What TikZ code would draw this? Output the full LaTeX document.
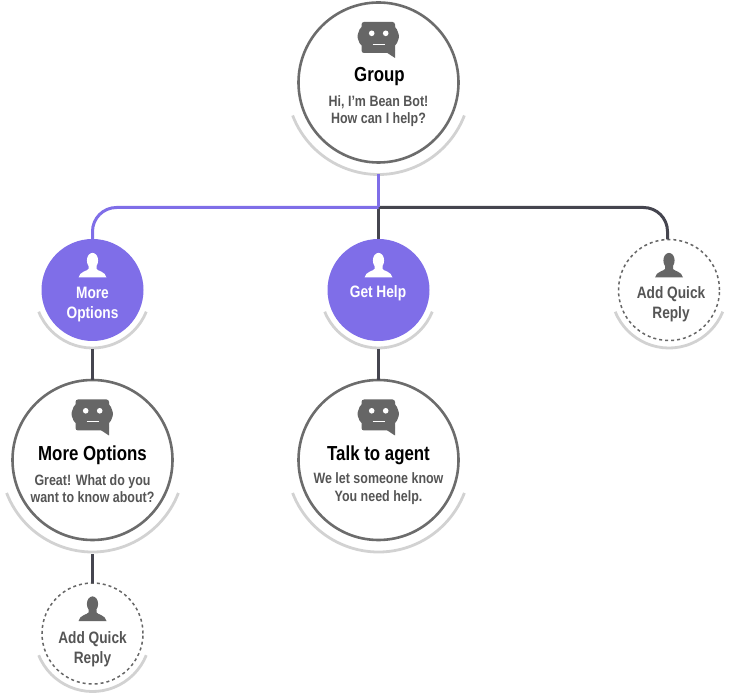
\documentclass[tikz,border=0pt]{standalone}
\usepackage{fontspec}
\setmainfont{Liberation Sans}[FakeStretch=0.83,BoldFont={Liberation Sans Bold}]
\definecolor{violetfill}{HTML}{7F6EE8}
\definecolor{darkline}{HTML}{45454F}
\definecolor{ringgray}{HTML}{6C6C6C}
\definecolor{arcgray}{HTML}{D2D2D2}
\definecolor{icongray}{HTML}{666666}
\definecolor{subgray}{HTML}{555555}
\newcommand{\arcunder}[3]{\draw[arcline] ([shift={(-90-#3:#2pt)}]#1.center) arc[start angle=-90-#3,end angle=-90+#3,radius=#2pt];}
\tikzset{
  bignode/.style={circle,draw=ringgray,line width=2.6pt,fill=white,minimum size=160pt,inner sep=0pt,outer sep=0pt},
  violetnode/.style={circle,fill=violetfill,minimum size=102pt,inner sep=0pt,outer sep=0pt},
  dashnode/.style={circle,draw=icongray,line width=1.5pt,dash pattern=on 3pt off 3pt,fill=white,minimum size=101pt,inner sep=0pt,outer sep=0pt},
  arcline/.style={draw=arcgray,line width=2.8pt},
  darkconn/.style={draw=darkline,line width=3pt},
  violetconn/.style={draw=violetfill,line width=3pt},
  titletext/.style={font=\fontsize{20.3}{23}\selectfont\bfseries,text=black,inner sep=0pt,anchor=base},
  subtext/.style={font=\fontsize{15}{17.7}\selectfont\bfseries,text=subgray,inner sep=0pt,align=center},
  whitetext/.style={font=\fontsize{16.5}{20}\selectfont\bfseries,text=white,inner sep=0pt,align=center},
  graytext/.style={font=\fontsize{16.5}{20}\selectfont\bfseries,text=subgray,inner sep=0pt,align=center},
  pics/boticon/.style={code={
    \fill[icongray,rounded corners=2.5pt] (-17,60.5) rectangle (16.5,29.5);
    \fill[icongray] (16.5,32) -- (16.5,24.5) -- (8.5,29.8) -- cycle;
    \fill[icongray,rounded corners=2.5pt] (-15,55.5) -- (-18,55.5) -- (-21.5,46) -- (-18,37) -- (-15,37) -- cycle;
    \fill[icongray,rounded corners=2.5pt] (14.5,55.5) -- (17.5,55.5) -- (21,46) -- (17.5,37) -- (14.5,37) -- cycle;
    \fill[white] (-6.8,49.2) circle (2.8pt) (7.2,49.2) circle (2.8pt);
    \draw[white,line width=1.4pt] (-6,38.2) -- (6,38.2);
  }},
  pics/personicon/.style={code={
    \fill[#1] (0,29.5) ellipse (5.6pt and 7.6pt);
    \fill[#1] (-4,24) -- (4,24) -- (4,21) .. controls (5,19) and (13,18.5) .. (14,12.5) -- (-14,12.5) .. controls (-13,18.5) and (-5,19) .. (-4,21) -- cycle;
  }}
}
\begin{document}
\begin{tikzpicture}[x=1pt,y=1pt]
\useasboundingbox (0,0) rectangle (730,699);
% nodes
\node[bignode] (group) at (378.5,616.5) {};
\node[violetnode] (moreopt) at (92.5,409) {};
\node[violetnode] (gethelp) at (378.5,409) {};
\node[dashnode] (addone) at (669,409) {};
\node[bignode] (morebot) at (92.5,239) {};
\node[bignode] (talk) at (378.5,239) {};
\node[dashnode] (addtwo) at (92.5,65.5) {};
\arcunder{group}{92}{69}
\arcunder{morebot}{92}{69}
\arcunder{talk}{92}{69}
\arcunder{moreopt}{58}{68}
\arcunder{gethelp}{58}{68}
\arcunder{addone}{58}{68}
\arcunder{addtwo}{58}{68}
% connector ends
\coordinate (hub) at (378.5,491.5);
\coordinate (groupend) at ([yshift=-92pt]group.center);
\coordinate (moreoptend) at ([yshift=-59pt]moreopt.center);
\coordinate (gethelpend) at ([yshift=-59pt]gethelp.center);
\coordinate (morebotend) at ([yshift=-94pt]morebot.center);
\coordinate (addonetop) at ([xshift=-1.5pt]addone.north);
% connectors
\draw[darkconn] (hub) -- (gethelp.north);
\draw[darkconn,rounded corners=24pt] (hub) -| (addonetop);
\draw[violetconn,rounded corners=24pt] (hub) -| (moreopt.north);
\draw[violetconn] (groupend) -- (hub);
\draw[darkconn] (moreoptend) -- (morebot.north);
\draw[darkconn] (gethelpend) -- (talk.north);
\draw[darkconn] (morebotend) -- (addtwo.north);
% icons
\pic at (group.center) {boticon};
\pic at (morebot.center) {boticon};
\pic at (talk.center) {boticon};
\pic at (moreopt.center) {personicon=white};
\pic at (gethelp.center) {personicon=white};
\pic at (addone.center) {personicon=icongray};
\pic at (addtwo.center) {personicon=icongray};
% text
\node[titletext] (grouptitle) at (379.5,617.3) {Group};
\node[subtext] (groupsub) at (378.5,588) {Hi, I'm Bean Bot!\\How can I help?};
\node[titletext] (moretitle) at (92.5,239) {More Options};
\node[subtext] (moresub) at (92.5,210.5) {Great! What do you\\want to know about?};
\node[titletext] (talktitle) at (378.5,239) {Talk to agent};
\node[subtext] (talksub) at (378.5,210.5) {We let someone know\\You need help.};
\node[whitetext] (moreoptlabel) at (92.5,394.5) {More\\Options};
\node[whitetext] (gethelplabel) at (378,405.5) {Get Help};
\node[graytext] (addonelabel) at (671,395) {Add Quick\\Reply};
\node[graytext] (addtwolabel) at (92.5,49.5) {Add Quick\\Reply};
\end{tikzpicture}
\end{document}
